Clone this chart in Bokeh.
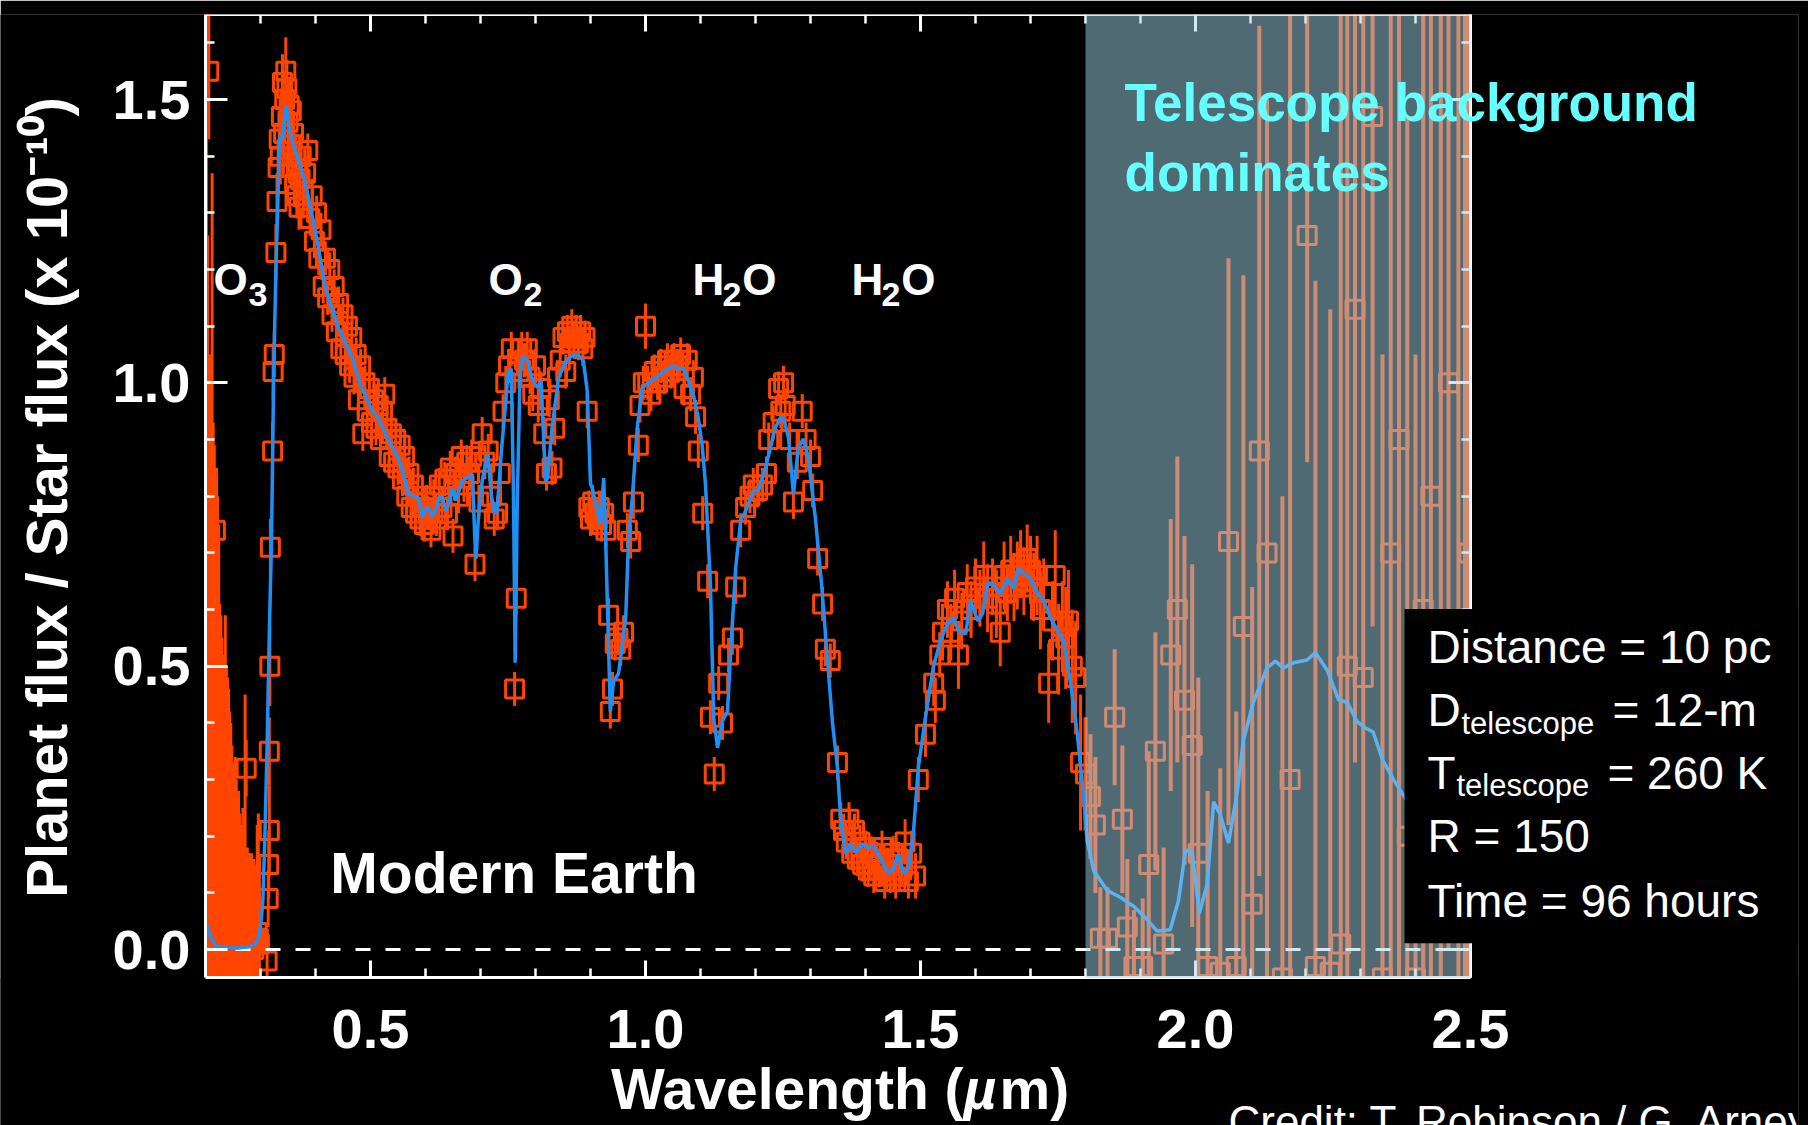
from bokeh.plotting import figure
from bokeh.models import (LinearAxis, SingleIntervalTicker, Range1d,
                          BoxAnnotation, Label, PrintfTickFormatter)
from bokeh.embed import file_html
from bokeh.resources import INLINE

# ---------------------------------------------------------------------------
# Simulated reflected-light spectrum of modern Earth (planet/star flux, x1e-10)
# ---------------------------------------------------------------------------

# Noise-free model spectrum
model_wl = [
    0.200, 0.205, 0.210, 0.215, 0.220, 0.230, 0.240, 0.250, 0.260, 0.270,
    0.280, 0.290, 0.296, 0.300, 0.304, 0.308, 0.312, 0.316, 0.320, 0.324,
    0.328, 0.331, 0.334, 0.337, 0.340, 0.344, 0.347, 0.352, 0.360, 0.370,
    0.382, 0.395, 0.405, 0.418, 0.430, 0.442, 0.455, 0.467, 0.480, 0.492,
    0.503, 0.514, 0.530, 0.550, 0.560, 0.568, 0.578, 0.587, 0.594, 0.600,
    0.605, 0.612, 0.618, 0.625, 0.631, 0.637, 0.642, 0.649, 0.654, 0.661,
    0.667, 0.676, 0.685, 0.690, 0.692, 0.696, 0.703, 0.713, 0.720, 0.726,
    0.730, 0.738, 0.745, 0.750, 0.756, 0.760, 0.763, 0.767, 0.772, 0.777,
    0.786, 0.793, 0.799, 0.805, 0.810, 0.815, 0.818, 0.822, 0.830, 0.842,
    0.855, 0.867, 0.878, 0.887, 0.894, 0.900, 0.903, 0.909, 0.918, 0.924,
    0.927, 0.931, 0.936, 0.942, 0.951, 0.958, 0.964, 0.969, 0.976, 0.985,
    0.994, 1.005, 1.023, 1.036, 1.049, 1.060, 1.069, 1.078, 1.088, 1.096,
    1.103, 1.109, 1.118, 1.124, 1.131, 1.140, 1.149, 1.155, 1.164, 1.173,
    1.182, 1.187, 1.196, 1.205, 1.218, 1.227, 1.236, 1.245, 1.251, 1.260,
    1.269, 1.278, 1.287, 1.296, 1.309, 1.320, 1.332, 1.340, 1.349, 1.355,
    1.364, 1.373, 1.382, 1.394, 1.403, 1.414, 1.427, 1.440, 1.449, 1.460,
    1.469, 1.478, 1.487, 1.496, 1.509, 1.523, 1.536, 1.549, 1.560, 1.569,
    1.582, 1.591, 1.604, 1.613, 1.622, 1.631, 1.645, 1.658, 1.669, 1.678,
    1.690, 1.700, 1.713, 1.724, 1.736, 1.748, 1.760, 1.773, 1.785, 1.796,
    1.803, 1.815, 1.840, 1.864, 1.888, 1.912, 1.930, 1.954, 1.969, 1.982,
    1.994, 2.007, 2.021, 2.033, 2.045, 2.060, 2.076, 2.087, 2.105, 2.130,
    2.145, 2.160, 2.178, 2.203, 2.218, 2.240, 2.260, 2.276, 2.294, 2.309,
    2.323, 2.340, 2.360, 2.382, 2.400, 2.420, 2.450, 2.480, 2.500,
]
model_flux = [
    0.050, 0.035, 0.022, 0.012, 0.007, 0.004, 0.003, 0.003, 0.003, 0.004,
    0.005, 0.010, 0.020, 0.040, 0.080, 0.200, 0.360, 0.557, 0.720, 1.016,
    1.200, 1.300, 1.420, 1.440, 1.430, 1.470, 1.489, 1.450, 1.420, 1.390,
    1.351, 1.290, 1.240, 1.168, 1.130, 1.097, 1.070, 1.044, 1.000, 0.975,
    0.951, 0.938, 0.905, 0.868, 0.840, 0.804, 0.800, 0.797, 0.762, 0.778,
    0.780, 0.765, 0.774, 0.800, 0.797, 0.775, 0.786, 0.815, 0.792, 0.810,
    0.827, 0.833, 0.839, 0.720, 0.690, 0.760, 0.827, 0.874, 0.800, 0.769,
    0.774, 0.880, 0.956, 1.016, 1.025, 0.800, 0.506, 0.800, 1.016, 1.048,
    1.039, 1.010, 0.998, 0.991, 1.004, 0.900, 0.827, 0.832, 0.920, 1.009,
    1.039, 1.048, 1.049, 1.039, 0.986, 0.822, 0.815, 0.787, 0.751, 0.832,
    0.744, 0.600, 0.420, 0.474, 0.487, 0.540, 0.586, 0.721, 0.797, 0.921,
    0.991, 1.000, 1.012, 1.022, 1.030, 1.025, 1.026, 1.004, 0.975, 0.938,
    0.890, 0.822, 0.646, 0.409, 0.356, 0.404, 0.420, 0.529, 0.674, 0.757,
    0.774, 0.787, 0.810, 0.810, 0.850, 0.885, 0.921, 0.938, 0.938, 0.903,
    0.804, 0.886, 0.901, 0.868, 0.760, 0.646, 0.497, 0.400, 0.321, 0.228,
    0.169, 0.187, 0.171, 0.187, 0.180, 0.183, 0.162, 0.136, 0.139, 0.169,
    0.134, 0.145, 0.205, 0.321, 0.409, 0.497, 0.545, 0.575, 0.586, 0.563,
    0.557, 0.616, 0.580, 0.593, 0.647, 0.647, 0.628, 0.654, 0.638, 0.672,
    0.663, 0.654, 0.628, 0.616, 0.586, 0.565, 0.545, 0.469, 0.381, 0.275,
    0.192, 0.139, 0.104, 0.092, 0.076, 0.053, 0.033, 0.035, 0.086, 0.176,
    0.171, 0.064, 0.115, 0.261, 0.238, 0.188, 0.279, 0.369, 0.436, 0.497,
    0.509, 0.497, 0.506, 0.511, 0.524, 0.492, 0.441, 0.436, 0.402, 0.391,
    0.384, 0.335, 0.300, 0.266, 0.235, 0.210, 0.180, 0.160, 0.150,
]

# Simulated observations: ultraviolet channel
uv_wl = [
    0.200, 0.202, 0.204, 0.206, 0.208, 0.210, 0.212, 0.214, 0.216, 0.218,
    0.220, 0.222, 0.224, 0.226, 0.228, 0.230, 0.232, 0.234, 0.236, 0.238,
    0.240, 0.242, 0.244, 0.246, 0.248, 0.250, 0.252, 0.254, 0.256, 0.258,
    0.260, 0.262, 0.264, 0.266, 0.268, 0.270, 0.272, 0.274, 0.276, 0.278,
    0.280, 0.282, 0.284, 0.286, 0.288, 0.290, 0.292, 0.294, 0.296, 0.298,
]
uv_flux = [
    0.02, 0.01, 0.04, 1.55, 0.00, 0.03, 0.02, 0.01, 0.05, 0.74,
    0.02, 0.00, 0.03, 0.01, 0.04, 0.00, 0.02, 0.01, 0.03, 0.00,
    0.02, 0.01, 0.03, 0.00, 0.02, 0.01, 0.03, 0.00, 0.02, 0.01,
    0.03, 0.00, 0.02, 0.01, 0.03, 0.00, 0.02, 0.32, 0.01, 0.02,
    0.00, 0.03, 0.01, 0.02, 0.00, 0.02, 0.01, 0.03, 0.02, 0.01,
]
uv_err = [
    1.70, 1.64, 1.22, 0.12, 1.05, 0.95, 1.35, 0.92, 0.84, 0.10,
    0.83, 0.80, 0.72, 0.60, 0.55, 0.55, 0.50, 0.50, 0.56, 0.50,
    0.46, 0.45, 0.39, 0.40, 0.34, 0.32, 0.29, 0.34, 0.28, 0.25,
    0.25, 0.24, 0.20, 0.19, 0.22, 0.20, 0.43, 0.05, 0.17, 0.15,
    0.17, 0.13, 0.16, 0.13, 0.16, 0.12, 0.14, 0.19, 0.22, 0.14,
]

# Visible channel
vis_wl = [
    0.312, 0.314, 0.315, 0.316, 0.316, 0.317, 0.318, 0.322, 0.323, 0.325,
    0.328, 0.330, 0.332, 0.334, 0.336, 0.338, 0.340, 0.342, 0.344, 0.346,
    0.348, 0.350, 0.352, 0.354, 0.356, 0.358, 0.360, 0.362, 0.364, 0.366,
    0.368, 0.370, 0.372, 0.374, 0.378, 0.382, 0.386, 0.390, 0.394, 0.398,
    0.402, 0.406, 0.410, 0.414, 0.418, 0.422, 0.426, 0.430, 0.434, 0.438,
    0.442, 0.446, 0.450, 0.454, 0.458, 0.462, 0.466, 0.470, 0.474, 0.478,
    0.482, 0.486, 0.490, 0.494, 0.498, 0.502, 0.506, 0.510, 0.514, 0.518,
    0.522, 0.526, 0.530, 0.534, 0.538, 0.542, 0.546, 0.550, 0.554, 0.558,
    0.562, 0.566, 0.570, 0.574, 0.578, 0.582, 0.586, 0.590, 0.594, 0.598,
    0.602,
]
vis_flux = [
    -0.02, 0.09, 0.15, 0.21, 0.35, 0.50, 0.71, 0.88, 1.02, 1.05,
    1.23, 1.32, 1.38, 1.43, 1.40, 1.47, 1.53, 1.44, 1.50, 1.55,
    1.52, 1.46, 1.49, 1.42, 1.48, 1.38, 1.44, 1.35, 1.40, 1.33,
    1.37, 1.31, 1.36, 1.40, 1.33, 1.37, 1.41, 1.29, 1.33, 1.25,
    1.30, 1.22, 1.27, 1.17, 1.22, 1.15, 1.20, 1.12, 1.17, 1.09,
    1.14, 1.06, 1.12, 1.05, 1.10, 1.03, 1.08, 1.01, 1.05, 0.97,
    1.03, 0.91, 1.00, 0.95, 0.99, 0.93, 0.97, 0.92, 0.96, 0.90,
    0.95, 0.98, 0.92, 0.87, 0.91, 0.86, 0.90, 0.85, 0.89, 0.83,
    0.87, 0.80, 0.84, 0.78, 0.82, 0.77, 0.80, 0.76, 0.78, 0.75,
    0.79,
]
vis_err = [
    0.04, 0.05, 0.06, 0.08, 0.06, 0.07, 0.05, 0.05, 0.05, 0.04,
    0.05, 0.05, 0.05, 0.05, 0.05, 0.05, 0.05, 0.05, 0.05, 0.06,
    0.05, 0.05, 0.05, 0.04, 0.04, 0.04, 0.04, 0.04, 0.04, 0.04,
    0.04, 0.04, 0.04, 0.04, 0.04, 0.03, 0.03, 0.03, 0.03, 0.03,
    0.03, 0.03, 0.03, 0.03, 0.03, 0.03, 0.03, 0.03, 0.03, 0.03,
    0.03, 0.03, 0.03, 0.03, 0.03, 0.03, 0.03, 0.03, 0.03, 0.03,
    0.03, 0.03, 0.03, 0.03, 0.03, 0.03, 0.03, 0.03, 0.03, 0.03,
    0.03, 0.03, 0.03, 0.03, 0.03, 0.03, 0.03, 0.03, 0.03, 0.03,
    0.03, 0.03, 0.03, 0.03, 0.03, 0.03, 0.03, 0.03, 0.03, 0.03,
    0.03,
]

# Red / O2 / near-IR water bands
red_wl = [
    0.605, 0.610, 0.615, 0.620, 0.625, 0.630, 0.635, 0.640, 0.645, 0.650,
    0.655, 0.660, 0.665, 0.670, 0.675, 0.680, 0.684, 0.690, 0.697, 0.703,
    0.708, 0.714, 0.720, 0.725, 0.731, 0.736, 0.741, 0.746, 0.751, 0.756,
    0.762, 0.765, 0.770, 0.775, 0.780, 0.785, 0.790, 0.795, 0.800, 0.805,
    0.810, 0.815, 0.820, 0.825, 0.830, 0.835, 0.840, 0.845, 0.850, 0.855,
    0.858, 0.862, 0.866, 0.870, 0.874, 0.878, 0.882, 0.886, 0.890, 0.894,
    0.897, 0.900, 0.904, 0.908, 0.912, 0.916, 0.920, 0.924, 0.928, 0.933,
    0.936, 0.940, 0.945, 0.950, 0.955, 0.960, 0.967, 0.973, 0.978, 0.987,
    0.990,
]
red_flux = [
    0.77, 0.74, 0.80, 0.76, 0.82, 0.78, 0.83, 0.77, 0.85, 0.73,
    0.84, 0.80, 0.87, 0.82, 0.86, 0.84, 0.87, 0.68, 0.79, 0.91,
    0.86, 0.88, 0.80, 0.76, 0.77, 0.84, 0.95, 1.00, 1.03, 1.06,
    0.46, 0.62, 1.02, 1.06, 1.04, 1.06, 1.01, 0.98, 1.03, 0.96,
    0.99, 0.91, 0.84, 0.97, 0.85, 0.92, 1.01, 1.04, 1.08, 1.02,
    1.09, 1.07, 1.10, 1.08, 1.09, 1.07, 1.09, 1.06, 1.08, 0.95,
    0.78, 0.76, 0.79, 0.77, 0.76, 0.78, 0.75, 0.77, 0.74, 0.59,
    0.42, 0.46, 0.54, 0.55, 0.53, 0.56, 0.74, 0.72, 0.79, 0.89,
    0.96,
]
red_err = [
    0.03, 0.03, 0.03, 0.03, 0.03, 0.03, 0.03, 0.03, 0.03, 0.03,
    0.03, 0.03, 0.03, 0.03, 0.03, 0.03, 0.03, 0.03, 0.03, 0.03,
    0.03, 0.03, 0.03, 0.03, 0.03, 0.03, 0.03, 0.03, 0.03, 0.03,
    0.03, 0.03, 0.03, 0.03, 0.03, 0.03, 0.03, 0.03, 0.03, 0.03,
    0.03, 0.03, 0.03, 0.03, 0.03, 0.03, 0.03, 0.03, 0.03, 0.03,
    0.03, 0.03, 0.03, 0.03, 0.03, 0.03, 0.03, 0.03, 0.03, 0.03,
    0.03, 0.03, 0.03, 0.03, 0.03, 0.03, 0.03, 0.03, 0.03, 0.03,
    0.03, 0.03, 0.03, 0.03, 0.03, 0.03, 0.03, 0.03, 0.03, 0.03,
    0.03,
]

nir_wl = [
    0.996, 1.000, 1.004, 1.010, 1.016, 1.022, 1.028, 1.034, 1.040, 1.046,
    1.052, 1.058, 1.064, 1.070, 1.076, 1.082, 1.087, 1.091, 1.096, 1.104,
    1.113, 1.118, 1.125, 1.133, 1.140, 1.151, 1.158, 1.164, 1.173, 1.182,
    1.190, 1.196, 1.204, 1.213, 1.220, 1.224, 1.232, 1.242, 1.246, 1.251,
    1.254, 1.262, 1.269, 1.276, 1.285, 1.292, 1.300, 1.304, 1.313, 1.322,
    1.327, 1.336, 1.349,
]
nir_flux = [
    1.00, 1.10, 1.00, 0.98, 1.02, 1.00, 1.03, 1.01, 1.04, 1.02,
    1.04, 1.03, 1.05, 0.99, 1.04, 0.98, 1.01, 0.94, 0.88, 0.77,
    0.65, 0.41, 0.31, 0.47, 0.40, 0.52, 0.55, 0.64, 0.74, 0.78,
    0.80, 0.82, 0.81, 0.82, 0.84, 0.90, 0.93, 0.99, 0.95, 1.00,
    0.96, 0.90, 0.79, 0.86, 0.95, 0.90, 0.87, 0.81, 0.69, 0.61,
    0.53, 0.51, 0.33,
]
nir_err = [
    0.03, 0.04, 0.03, 0.03, 0.03, 0.03, 0.03, 0.03, 0.03, 0.03,
    0.03, 0.03, 0.03, 0.03, 0.03, 0.03, 0.03, 0.03, 0.03, 0.03,
    0.03, 0.03, 0.03, 0.03, 0.03, 0.03, 0.03, 0.03, 0.03, 0.03,
    0.03, 0.03, 0.03, 0.03, 0.03, 0.03, 0.03, 0.03, 0.03, 0.03,
    0.03, 0.03, 0.03, 0.03, 0.03, 0.03, 0.03, 0.03, 0.03, 0.03,
    0.03, 0.03, 0.03,
]

band_wl = [
    1.355, 1.360, 1.365, 1.370, 1.375, 1.380, 1.385, 1.390, 1.395, 1.400,
    1.405, 1.410, 1.415, 1.420, 1.425, 1.430, 1.435, 1.440, 1.445, 1.450,
    1.455, 1.460, 1.466, 1.472, 1.478, 1.484, 1.491, 1.496, 1.509, 1.524,
    1.527, 1.535, 1.540, 1.549, 1.555, 1.562, 1.569, 1.575, 1.585, 1.592,
    1.600, 1.608, 1.615, 1.622, 1.631, 1.638, 1.645, 1.652, 1.658, 1.664,
    1.670, 1.676, 1.682, 1.688, 1.694, 1.700, 1.706, 1.712, 1.718, 1.724,
    1.733, 1.740, 1.745, 1.751, 1.758, 1.764, 1.769, 1.776, 1.782, 1.791,
]
band_flux = [
    0.23, 0.21, 0.19, 0.23, 0.17, 0.21, 0.16, 0.19, 0.15, 0.18,
    0.14, 0.17, 0.13, 0.16, 0.14, 0.18, 0.12, 0.15, 0.13, 0.17,
    0.12, 0.16, 0.14, 0.19, 0.12, 0.17, 0.13, 0.30, 0.38, 0.47,
    0.44, 0.52, 0.56, 0.60, 0.56, 0.62, 0.52, 0.58, 0.63, 0.60,
    0.64, 0.62, 0.66, 0.62, 0.64, 0.61, 0.56, 0.66, 0.63, 0.67,
    0.64, 0.66, 0.68, 0.65, 0.69, 0.67, 0.64, 0.66, 0.60, 0.63,
    0.47, 0.58, 0.66, 0.53, 0.57, 0.55, 0.58, 0.50, 0.48, 0.33,
]
band_err = [
    0.03, 0.03, 0.03, 0.03, 0.03, 0.03, 0.03, 0.03, 0.03, 0.03,
    0.03, 0.03, 0.03, 0.03, 0.03, 0.03, 0.03, 0.03, 0.03, 0.03,
    0.03, 0.03, 0.03, 0.04, 0.03, 0.04, 0.04, 0.04, 0.04, 0.04,
    0.04, 0.04, 0.05, 0.05, 0.05, 0.05, 0.06, 0.05, 0.05, 0.05,
    0.05, 0.05, 0.06, 0.06, 0.05, 0.06, 0.06, 0.06, 0.05, 0.06,
    0.06, 0.06, 0.06, 0.06, 0.06, 0.06, 0.06, 0.07, 0.07, 0.06,
    0.07, 0.07, 0.08, 0.08, 0.08, 0.09, 0.09, 0.10, 0.10, 0.12,
]

# Thermal-IR channel, where telescope background dominates the noise
ir_wl = [
    1.800, 1.809, 1.818, 1.827, 1.840, 1.853, 1.867, 1.876, 1.888, 1.904,
    1.915, 1.927, 1.942, 1.955, 1.967, 1.980, 1.994, 2.005, 2.022, 2.045,
    2.060, 2.074, 2.087, 2.103, 2.116, 2.130, 2.158, 2.172, 2.203, 2.218,
    2.245, 2.264, 2.276, 2.290, 2.305, 2.322, 2.340, 2.355, 2.370, 2.385,
    2.400, 2.414, 2.428, 2.446, 2.460, 2.478, 2.490, 2.497,
]
ir_flux = [
    0.31, 0.27, 0.22, 0.02, 0.02, 0.41, 0.23, 0.04, -0.03, -0.03,
    0.15, 0.35, 0.01, 0.52, 0.60, 0.44, 0.36, 0.17, -0.03, -0.04,
    0.72, -0.03, 0.57, 0.08, 0.88, 0.70, -0.05, 0.30, 1.26, -0.03,
    -0.04, 0.01, 0.50, 1.13, 0.48, 1.47, -0.05, 0.70, 0.90, 0.20,
    -0.05, 0.60, 0.80, 0.40, 1.00, 0.50, 0.30, 0.70,
]
ir_err = [
    0.10, 0.11, 0.12, 0.09, 0.09, 0.12, 0.13, 0.12, 0.10, 0.12,
    0.20, 0.21, 0.17, 0.24, 0.27, 0.29, 0.32, 0.31, 0.31, 0.36,
    0.50, 0.45, 0.62, 0.56, 0.75, 0.80, 0.85, 1.60, 0.40, 1.21,
    1.17, 1.70, 1.50, 0.80, 1.40, 0.90, 1.10, 1.20, 1.20, 1.27,
    1.10, 1.30, 1.20, 1.40, 1.00, 1.30, 1.50, 1.20,
]

# Observing setup shown in the info box
setup_lines = ["Distance = 10 pc", "D", "T", "R = 150", "Time = 96 hours"]

assert len(model_wl) == len(model_flux)
for a, b, c in [(uv_wl, uv_flux, uv_err), (vis_wl, vis_flux, vis_err),
                (red_wl, red_flux, red_err), (nir_wl, nir_flux, nir_err),
                (band_wl, band_flux, band_err), (ir_wl, ir_flux, ir_err)]:
    assert len(a) == len(b) == len(c), (len(a), len(b), len(c))

opt_wl = uv_wl + vis_wl + red_wl + nir_wl + band_wl
opt_flux = uv_flux + vis_flux + red_flux + nir_flux + band_flux
opt_err = uv_err + vis_err + red_err + nir_err + band_err

# ---------------------------------------------------------------------------
FONT = "Liberation Sans"
ORANGE = "#ff4500"
BLUE = "#1e8ff5"
WL_LIM = (0.2, 2.5)          # span covered by the axes box
FLUX_LIM = (-0.05, 1.65)
THERMAL_START = 1.8
# The frame spans the whole canvas (550 px per micron, 567 px per flux unit)
# so that every title and note can sit in it as an ordinary label; the four
# sides of the axes box are drawn by axes pinned with fixed_location.
VIEW_X = (-0.17273, 3.09636)
VIEW_Y = (-0.3104, 1.65)

p = figure(width=1808, height=1125,
           x_range=Range1d(*VIEW_X), y_range=Range1d(*VIEW_Y),
           output_backend="svg", toolbar_location=None,
           x_axis_location=None, y_axis_location=None,
           min_border_left=0, min_border_right=10,
           min_border_top=14, min_border_bottom=0,
           background_fill_color="black", border_fill_color="black",
           outline_line_color=None)
p.xgrid.visible = False
p.ygrid.visible = False


def draw_points(wl, flux, err, bar_width):
    lo = [f - e for f, e in zip(flux, err)]
    hi = [f + e for f, e in zip(flux, err)]
    p.segment(x0=wl, y0=lo, x1=wl, y1=hi, line_color=ORANGE, line_width=bar_width)
    p.scatter(wl, flux, marker="square", size=18, fill_color=None,
              line_color=ORANGE, line_width=3)


draw_points(opt_wl, opt_flux, opt_err, 3)
draw_points(ir_wl, ir_flux, ir_err, 4)
p.line(list(WL_LIM), [0, 0], line_color="white", line_width=3, line_dash="15 15")
p.line(model_wl, model_flux, line_color=BLUE, line_width=3.5)

# black masks trim the data to the axes box (drawn above glyphs, below axes)
for box in (dict(right=WL_LIM[0]), dict(left=WL_LIM[1]), dict(top=FLUX_LIM[0])):
    p.add_layout(BoxAnnotation(fill_color="black", fill_alpha=1.0, line_color=None,
                               level="glyph", **box))


def make_axis(tick_in, tick_out, minor_in, minor_out, with_labels, **kw):
    fmt = "%.1f" if with_labels else ""
    ax = LinearAxis(ticker=SingleIntervalTicker(interval=0.5, num_minor_ticks=5),
                    formatter=PrintfTickFormatter(format=fmt), **kw)
    ax.axis_line_color = "white"
    ax.axis_line_width = 3
    ax.major_tick_line_color = "white"
    ax.major_tick_line_width = 3
    ax.minor_tick_line_color = "white"
    ax.minor_tick_line_width = 2.5
    ax.major_tick_in = tick_in
    ax.major_tick_out = tick_out
    ax.minor_tick_in = minor_in
    ax.minor_tick_out = minor_out
    if with_labels:
        ax.major_label_text_font = FONT
        ax.major_label_text_font_size = "56px"
        ax.major_label_text_font_style = "bold"
        ax.major_label_text_color = "white"
    else:
        ax.major_label_text_font_size = "1px"
        ax.major_label_text_color = None
        ax.major_label_standoff = 0
    return ax


# bottom edge: ticks point up, labels hang below the line
x_axis = make_axis(0, 17, 0, 9, True, fixed_location=FLUX_LIM[0], bounds=WL_LIM)
x_axis.major_label_standoff = -87
p.add_layout(x_axis, "above")
# top edge
p.add_layout(make_axis(17, 0, 9, 0, False, fixed_location=FLUX_LIM[1],
                       bounds=WL_LIM), "above")
# left edge: ticks point right, labels sit left of the line
y_axis = make_axis(0, 22, 0, 9, True, fixed_location=WL_LIM[0], bounds=FLUX_LIM)
y_axis.major_label_standoff = -115
p.add_layout(y_axis, "right")
# right edge
p.add_layout(make_axis(22, 0, 9, 0, False, fixed_location=WL_LIM[1],
                       bounds=FLUX_LIM), "right")

# thermal-IR region where the telescope background dominates
p.add_layout(BoxAnnotation(left=THERMAL_START, right=WL_LIM[1], bottom=FLUX_LIM[0],
                           fill_color="#a0d4e8", fill_alpha=0.5, line_color=None,
                           level="annotation"))

# black panel behind the observing setup
p.add_layout(BoxAnnotation(left=2.38, bottom=0.011, top=0.601, fill_color="black",
                           fill_alpha=1.0, line_color=None, level="overlay"))


def add_text(x, y, text, size, color="white", bold=False, italic=False,
             align="left", angle=0):
    style = "bold italic" if (bold and italic) else "bold" if bold else \
        "italic" if italic else "normal"
    p.add_layout(Label(x=x, y=y, text=text, text_font=FONT,
                       text_font_size=f"{size}px", text_color=color,
                       text_font_style=style, text_align=align,
                       text_baseline="alphabetic", angle=angle,
                       angle_units="deg", level="overlay"))


# axis titles
add_text(-0.0891, 0.812, "Planet flux / Star flux  (x 10⁻¹⁰)", 58, bold=True,
         align="center", angle=90)
add_text(1.5782, -0.2452, "Wavelength (", 57, bold=True, align="right")
add_text(1.5782, -0.2452, "µ", 57, bold=True, italic=True)
add_text(1.6436, -0.2452, "m)", 57, bold=True)

# absorption features
for x_main, x_sub, main, sub, tail, x_tail in [
        (0.2145, 0.278, "O", "3", "", None),
        (0.7145, 0.778, "O", "2", "", None),
        (1.0855, 1.140, "H", "2", "O", 1.176),
        (1.3745, 1.429, "H", "2", "O", 1.465)]:
    add_text(x_main, 1.183, main, 44, bold=True)
    add_text(x_sub, 1.156, sub, 34, bold=True)
    if tail:
        add_text(x_tail, 1.183, tail, 44, bold=True)

add_text(0.427, 0.136, "Modern Earth", 57, bold=True)

add_text(1.871, 1.4946, "Telescope background", 53, color="#66ffff", bold=True)
add_text(1.871, 1.3716, "dominates", 53, color="#66ffff", bold=True)

# observing setup
add_text(2.4218, 0.5344, setup_lines[0], 46)
add_text(2.4218, 0.4233, setup_lines[1], 46)
add_text(2.4836, 0.3994, "telescope", 31)
add_text(2.758, 0.4233, "= 12-m", 46)
add_text(2.4218, 0.3122, setup_lines[2], 46)
add_text(2.4745, 0.2900, "telescope", 31)
add_text(2.749, 0.3122, "= 260 K", 46)
add_text(2.4218, 0.2011, setup_lines[3], 46)
add_text(2.4218, 0.0864, setup_lines[4], 46)

add_text(2.06, -0.3034, "Credit: T. Robinson / G. Arney", 44)

open("out.html", "w").write(file_html(p, INLINE))
